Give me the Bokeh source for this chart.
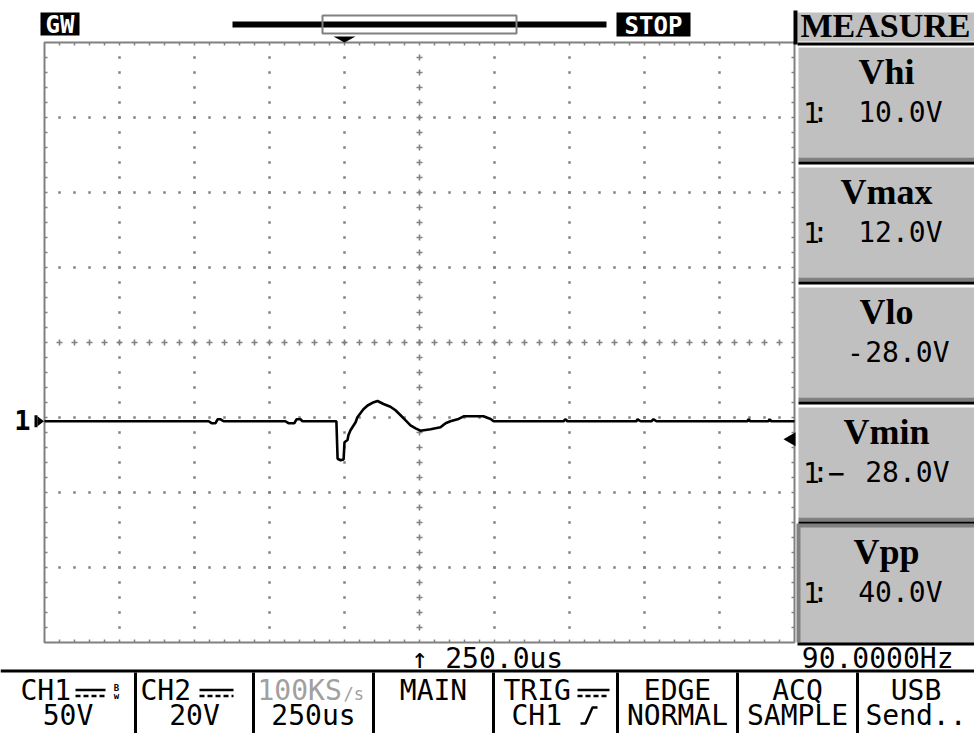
from bokeh.plotting import figure
from bokeh.models import Range1d
from bokeh.embed import file_html
from bokeh.resources import INLINE
from bokeh.core.properties import value

# ---------------- data ----------------
# CH1 trace: time relative to trigger (us) and voltage relative to CH1 ground (V)
TIME_US = [-1000, -453, -443, -430, -423, -413, -403, -197, -187, -167, -160, -147, -140,
           -27, -23, -13, -3, 0, 10, 13, 20, 37, 43, 53, 63, 77, 93, 110, 130, 153, 170,
           187, 203, 220, 237, 253, 287, 320, 337, 353, 377, 397, 463, 487, 497,
           730, 737, 743, 973, 977, 987, 1023, 1030, 1040, 1343, 1347, 1353,
           1413, 1417, 1423, 1500]
VOLT = [0, 0, -1.3, -1.3, 1.3, 1.3, 0, 0, -1.3, -1.3, 1.3, 1.3, 0,
        0, -25, -26, -25.5, -14, -12.5, -9.3, -6, -0.7, 2.7, 5.3, 8, 10.5, 12.3, 13.5, 11.5, 9.7, 7.3,
        4, 0.7, -2.7, -4.7, -6.3, -5.3, -4, -1.3, 0, 1.3, 3.3, 3.3, 1.5, 0,
        0, 1.3, 0, 0, 1.3, 0, 0, 1.3, 0, 0, 1.3, 0,
        0, 1.3, 0, 0]
GND_OFFSET_V = -52.5      # CH1 ground marker position
TRIG_LEVEL_V = -12.0      # trigger level relative to CH1 ground
US_PER_DIV = 250
V_PER_DIV = 50
H_POS_US = 250            # screen centre relative to trigger

MEAS_NAMES = ["Vhi", "Vmax", "Vlo", "Vmin", "Vpp"]
MEAS_CH = ["1:", "1:", "", "1:", "1:"]
MEAS_VALUES = ["10.0V", "12.0V", "-28.0V", "\u221228.0V", "40.0V"]
MENU_TOP = ["CH1", "CH2", "100KS", "MAIN", "TRIG", "EDGE", "ACQ", "USB"]
MENU_BOT = ["50V", "20V", "250us", "", "CH1", "NORMAL", "SAMPLE", "Send.."]
TIMEBASE_LABEL = "\u2191 250.0us"
FREQ_LABEL = "90.0000Hz"
HEADER_LEFT = "GW"
HEADER_STATE = "STOP"
PANEL_TITLE = "MEASURE"

# ---------------- geometry ----------------
W, H = 974, 733
DIV = 75
GL, GT = 44, 42
NXD, NYD = 10, 8
x_left = H_POS_US - NXD / 2 * US_PER_DIV
x_right = H_POS_US + NXD / 2 * US_PER_DIV
y_bot, y_top = -NYD / 2 * V_PER_DIV, NYD / 2 * V_PER_DIV
upp = US_PER_DIV / DIV
vpp = V_PER_DIV / DIV
x0 = x_left - GL * upp
x1 = x0 + W * upp
y1 = y_top + GT * vpp
y0 = y1 - H * vpp


def X(px):
    return x0 + px * upp


def Y(py):
    return y1 - py * vpp


GRID = "#808080"
PANEL = "#c0c0c0"
SHADOW = "#808080"
MONO = "DejaVu Sans Mono"
SERIF = "Liberation Serif"
BASE_FIX = 0.33   # empirical baseline correction (fraction of font size)

p = figure(width=W, height=H, x_range=Range1d(x0, x1), y_range=Range1d(y0, y1),
           output_backend="svg", toolbar_location=None,
           x_axis_location=None, y_axis_location=None, min_border=0)
p.outline_line_color = None
p.background_fill_color = "white"
p.border_fill_color = "white"
for g in p.grid:
    g.visible = False


def box(l, t, r, b, color):
    p.quad(left=[X(l)], right=[X(r)], top=[Y(t)], bottom=[Y(b)],
           fill_color=color, line_color=None)


def txt(px, py, s, size=28, align="left", font=MONO, color="black", style="normal"):
    p.text(x=[X(px)], y=[Y(py - BASE_FIX * size)], text=[s], text_font=value(font),
           text_font_size=f"{size}px", text_align=align, text_baseline="alphabetic",
           text_color=color, text_font_style=style)


# ---------------- graticule ----------------
minor_t = US_PER_DIV / 5
minor_v = V_PER_DIV / 5
centre_t = x_left + NXD / 2 * US_PER_DIV
dx, dy = [], []
for k in range(1, NXD):
    if k == NXD // 2:
        continue
    xv = x_left + k * US_PER_DIV
    for j in range(1, NYD * 5):
        dx.append(xv)
        dy.append(y_bot + j * minor_v)
for j in range(1, NYD):
    if j == NYD // 2:
        continue
    yv = y_bot + j * V_PER_DIV
    for i in range(1, NXD * 5):
        dx.append(x_left + i * minor_t)
        dy.append(yv)
p.scatter(dx, dy, marker="square", size=2.5, fill_color=GRID, line_color=None)

cx, cy = [], []
for j in range(1, NYD * 5):
    cx.append(centre_t)
    cy.append(y_bot + j * minor_v)
for i in range(1, NXD * 5):
    cx.append(x_left + i * minor_t)
    cy.append(0)
p.scatter(cx, cy, marker="cross", size=6, line_color=GRID, line_width=1.6)

tx0, ty0, tx1, ty1 = [], [], [], []
for i in range(1, NXD * 5):
    xv = x_left + i * minor_t
    tx0 += [xv, xv]; tx1 += [xv, xv]
    ty0 += [y_top, y_bot]; ty1 += [y_top - 3 * vpp, y_bot + 3 * vpp]
for j in range(1, NYD * 5):
    yv = y_bot + j * minor_v
    tx0 += [x_left, x_right]; tx1 += [x_left + 3 * upp, x_right - 3 * upp]
    ty0 += [yv, yv]; ty1 += [yv, yv]
p.segment(tx0, ty0, tx1, ty1, line_color=GRID, line_width=1.5)
p.quad(left=[x_left], right=[x_right], top=[y_top], bottom=[y_bot],
       fill_color=None, line_color=GRID, line_width=2)

# ---------------- trace ----------------
p.line(TIME_US, [v + GND_OFFSET_V for v in VOLT], line_color="black", line_width=2.6)

# ground marker "1 ▸"
txt(22, 428, "1", size=27, align="center", style="bold")
p.quad(left=[X(34)], right=[X(37)], top=[GND_OFFSET_V + 6 * vpp],
       bottom=[GND_OFFSET_V - 6 * vpp], fill_color="black", line_color=None)
p.patch([X(37), X(43.5), X(37)],
        [GND_OFFSET_V + 5 * vpp, GND_OFFSET_V, GND_OFFSET_V - 5 * vpp],
        fill_color="black", line_color=None)
# trigger level marker ◂ at right edge
tl = TRIG_LEVEL_V + GND_OFFSET_V
p.patch([x_right - 11 * upp, x_right + 1 * upp, x_right + 1 * upp],
        [tl, tl + 7 * vpp, tl - 7 * vpp], fill_color="black", line_color=None)
# trigger position marker ▼
p.patch([0 - 11 * upp, 0 + 11 * upp, 0], [y_top + 6 * vpp, y_top + 6 * vpp, y_top],
        fill_color="black", line_color=None)

# ---------------- header ----------------
box(40, 12, 79, 35, "black")
txt(59.5, 32, HEADER_LEFT, size=24, align="center", color="white", style="bold")
box(232, 21, 606, 27, "black")
p.quad(left=[X(322)], right=[X(516)], top=[Y(15)], bottom=[Y(33)],
       fill_color=None, line_color=GRID, line_width=2)
box(616, 12, 690, 36, "black")
txt(653, 33, HEADER_STATE, size=24, align="center", color="white", style="bold")

# ---------------- measure panel ----------------
box(797, 12, 974, 41, PANEL)
box(793, 10, 797, 44, "black")
box(797, 42, 974, 45, "black")
txt(800, 36, PANEL_TITLE, size=34, font=SERIF, style="bold")

for k, (name, ch, val) in enumerate(zip(MEAS_NAMES, MEAS_CH, MEAS_VALUES)):
    top = 47 + 120 * k
    if k < 4:
        box(798, top, 974, top + 110, PANEL)
        box(798, top + 110, 974, top + 114, SHADOW)
        box(798, top + 114, 974, top + 117, "black")
    else:
        # selected (pressed) button
        box(796, top - 4, 974, 642, SHADOW)
        box(800, top, 974, 642, PANEL)
        box(797, 642, 974, 645, "black")
    txt(886, top + 36, name, size=36, align="center", font=SERIF, style="bold")
    vb = top + 74
    if ch:
        txt(811, vb, ch[0], align="center")
        txt(820, vb, ch[1], align="center")
    if val[0] in "-\u2212":
        sign_x = 836 if ch else 855
        txt(sign_x, vb, val[0], align="center")
        txt(949, vb, val[1:], align="right")
    else:
        txt(942, vb, val, align="right")

# ---------------- status line ----------------
txt(411, 667, TIMEBASE_LABEL)
txt(953, 667, FREQ_LABEL, align="right")
box(0, 669, 974, 672, "black")

SEPS = [135, 253, 373, 493, 617, 737, 857]
for s in SEPS:
    box(s - 1.5, 672, s + 1.5, 733, "black")
edges = [0] + SEPS + [974]
centres = [(edges[i] + edges[i + 1]) / 2 for i in range(8)]
ROW1, ROW2 = 699, 724


def dc_symbol(xa, xb):
    p.segment([X(xa)], [Y(689.5)], [X(xb)], [Y(689.5)], line_color="black", line_width=2.5)
    p.line([X(xa), X(xb)], [Y(695.5), Y(695.5)], line_color="black", line_width=2.5,
           line_dash="5 3")


for i, (top_t, bot_t) in enumerate(zip(MENU_TOP, MENU_BOT)):
    c = centres[i]
    if top_t == "CH1":
        txt(20, ROW1, top_t)
        dc_symbol(75, 105)
        txt(116, 690, "B", size=9, align="center", style="bold")
        txt(116, 698, "w", size=9, align="center", style="bold")
    elif top_t == "CH2":
        txt(140, ROW1, top_t)
        dc_symbol(199, 233)
    elif top_t == "TRIG":
        txt(503, ROW1, top_t)
        dc_symbol(577, 609)
    elif top_t == "100KS":
        txt(257, ROW1, top_t, color="#a0a0a0")
        txt(343, ROW1, "/s", size=17, color="#a0a0a0")
    else:
        txt(c, ROW1, top_t, align="center")
    if top_t == "TRIG":
        txt(511, ROW2, bot_t)
        p.line([X(580), X(585), X(592), X(597)], [Y(ROW2 - 1), Y(ROW2 - 1), Y(ROW2 - 17), Y(ROW2 - 17)],
               line_color="black", line_width=2.5)
    elif bot_t:
        txt(c, ROW2, bot_t, align="center")

open("out.html", "w").write(file_html(p, INLINE))
